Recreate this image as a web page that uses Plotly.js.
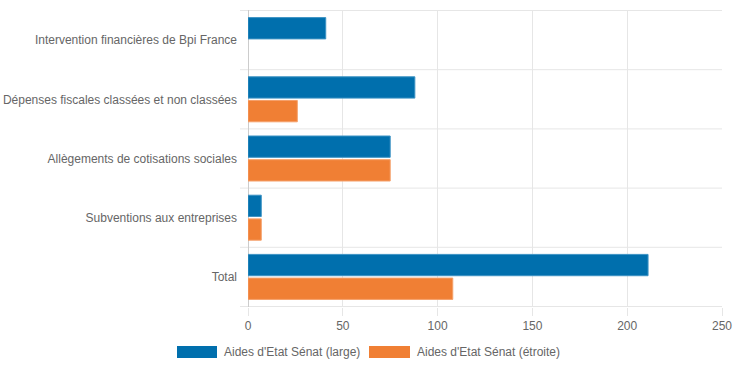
<!DOCTYPE html>
<html>
<head>
<meta charset="utf-8">
<script src="https://cdn.plot.ly/plotly-3.0.1.min.js"></script>
<style>html,body{margin:0;padding:0;background:#fff;}#chart{width:736px;height:368px;}</style>
</head>
<body>
<div id="chart"></div>
<script>
const categories = [
  "Intervention financières de Bpi France",
  "Dépenses fiscales classées et non classées",
  "Allègements de cotisations sociales",
  "Subventions aux entreprises",
  "Total"
];
const seriesNames = ["Aides d'Etat Sénat (large)", "Aides d'Etat Sénat (étroite)"];
const largeValues = [41, 88, 75, 7, 211];
const narrowValues = [0, 26, 75, 7, 108];
const xTicks = [0, 50, 100, 150, 200, 250];

const W = 736, H = 368;
const M = {l: 248, r: 14, t: 10, b: 61};
const pw = W - M.l - M.r, ph = H - M.t - M.b;
const px = x => (x - M.l) / pw;
const py = y => (H - M.b - y) / ph;

const blue = "#006fad", orange = "#f07f34";
const grid = "#e6e6e6";
const font = {family: "Arial, 'Liberation Sans', sans-serif", size: 12, color: "#666"};
const outlineWidth = vals => vals.map(v => (v === 0 ? 0 : 1));

const traces = [
  {type: "bar", orientation: "h", name: seriesNames[0], y: categories, x: largeValues,
   marker: {color: blue, line: {color: "#3d93c4", width: outlineWidth(largeValues)}}, hoverinfo: "x+name"},
  {type: "bar", orientation: "h", name: seriesNames[1], y: categories, x: narrowValues,
   marker: {color: orange, line: {color: "#f5a06a", width: outlineWidth(narrowValues)}}, hoverinfo: "x+name"}
];

const shapes = [];
for (let i = 0; i <= categories.length; i++) {
  shapes.push({type: "line", xref: "paper", yref: "y", x0: px(240), x1: 1, y0: i - 0.5, y1: i - 0.5,
    line: {color: grid, width: 1}, layer: "below"});
}
// custom legend boxes
shapes.push({type: "rect", xref: "paper", yref: "paper", x0: px(177), x1: px(217), y0: py(358), y1: py(346),
  fillcolor: blue, line: {width: 0}});
shapes.push({type: "rect", xref: "paper", yref: "paper", x0: px(369), x1: px(410), y0: py(358), y1: py(346),
  fillcolor: orange, line: {width: 0}});

const annotations = [
  {xref: "paper", yref: "paper", x: px(222), y: py(352), xanchor: "left", yanchor: "middle",
   text: seriesNames[0], showarrow: false, font: font},
  {xref: "paper", yref: "paper", x: px(415), y: py(352), xanchor: "left", yanchor: "middle",
   text: seriesNames[1], showarrow: false, font: font}
];

const layout = {
  width: W, height: H,
  margin: M,
  paper_bgcolor: "#fff", plot_bgcolor: "#fff",
  font: font,
  barmode: "group", bargap: 0.2, bargroupgap: 0.1,
  showlegend: false,
  xaxis: {range: [0, 250], tickvals: xTicks, ticktext: xTicks.map(String), showgrid: true, gridcolor: grid,
    ticks: "outside", ticklen: 8, tickcolor: grid, zeroline: true, zerolinecolor: "#cccccc", zerolinewidth: 1,
    showline: false, tickfont: font, fixedrange: true},
  yaxis: {type: "category", autorange: "reversed", showgrid: false, zeroline: false, ticks: "",
    ticklabelstandoff: 10, tickfont: font, showline: false, fixedrange: true},
  shapes: shapes,
  annotations: annotations
};

Plotly.newPlot("chart", traces, layout, {displayModeBar: false, staticPlot: true});
</script>
</body>
</html>
